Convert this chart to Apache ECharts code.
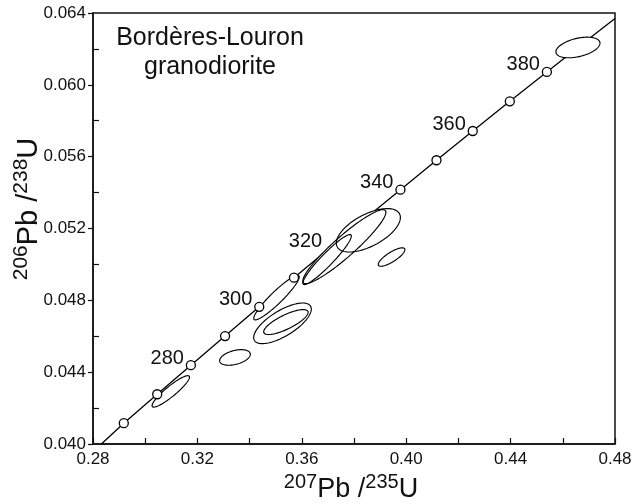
<!DOCTYPE html>
<html><head><meta charset="utf-8">
<script src="https://cdn.jsdelivr.net/npm/echarts@6/dist/echarts.min.js"></script>
<style>html,body{margin:0;padding:0;background:#fff}#c{width:635px;height:504px}</style>
</head><body><div id="c"></div>
<script>
// Concordia curve
const concordiaX = [0.2832, 0.2918, 0.3046, 0.3175, 0.3306, 0.3437, 0.3570, 0.3705, 0.3840, 0.3978, 0.4116, 0.4255, 0.4397, 0.4539, 0.4683, 0.4800];
const concordiaY = [0.0400, 0.04116, 0.04277, 0.04439, 0.04601, 0.04764, 0.04926, 0.05089, 0.05252, 0.05416, 0.05580, 0.05743, 0.05908, 0.06072, 0.06237, 0.0637];
// visible age markers (Ma)
const markerAge = [260, 270, 280, 290, 300, 310, 340, 350, 360, 370, 380];
const markerX = [0.2918, 0.3046, 0.3175, 0.3306, 0.3437, 0.3570, 0.3978, 0.4116, 0.4255, 0.4397, 0.4539];
const markerY = [0.04116, 0.04277, 0.04439, 0.04601, 0.04764, 0.04926, 0.05416, 0.05580, 0.05743, 0.05908, 0.06072];
// age labels
const labelText = ['280', '300', '320', '340', '360', '380'];
const labelX = [0.3175, 0.3437, 0.3705, 0.3978, 0.4255, 0.4539];
const labelY = [0.04439, 0.04764, 0.05089, 0.05416, 0.05743, 0.06072];
// error ellipses: centre, half-widths, correlation
const ellipseX = [0.3098, 0.3344, 0.3503, 0.3526, 0.3539, 0.3855, 0.3763, 0.3697, 0.3944, 0.4658];
const ellipseY = [0.04293, 0.04482, 0.04815, 0.04672, 0.04679, 0.05190, 0.05099, 0.05027, 0.05041, 0.06208];
const ellipseSX = [0.00717, 0.00587, 0.00871, 0.01104, 0.00851, 0.01227, 0.01592, 0.00928, 0.00510, 0.00844];
const ellipseSY = [0.000875, 0.000434, 0.001237, 0.001131, 0.000696, 0.001209, 0.002061, 0.001393, 0.000513, 0.000574];
const ellipseRho = [0.91, 0.41, 0.93, 0.70, 0.78, 0.59, 0.93, 0.94, 0.80, 0.42];
// axis ticks
const xTickLabels = ['0.28', '0.32', '0.36', '0.40', '0.44', '0.48'];
const yTickLabels = ['0.040', '0.044', '0.048', '0.052', '0.056', '0.060', '0.064'];
const yMinorTicks = [0.042, 0.046, 0.050, 0.054, 0.058, 0.062];

const FONT = '"Liberation Sans", Arial, Helvetica, sans-serif';
const ellipseData = ellipseX.map((x, i) => [x, ellipseY[i], ellipseSX[i], ellipseSY[i], ellipseRho[i]]);

function ellipsePoints(api) {
  const cx = api.value(0), cy = api.value(1), sx = api.value(2), sy = api.value(3), r = api.value(4);
  const q = Math.sqrt(1 - r * r);
  const pts = [];
  for (let i = 0; i < 120; i++) {
    const t = i / 120 * 2 * Math.PI;
    pts.push(api.coord([cx + sx * Math.cos(t), cy + sy * (r * Math.cos(t) + q * Math.sin(t))]));
  }
  return pts;
}

const chart = echarts.init(document.getElementById('c'), null, {renderer: 'canvas'});
const axisCol = '#111';
chart.setOption({
  animation: false,
  backgroundColor: '#fff',
  grid: {left: 93, right: 20, top: 13, bottom: 60, show: true, borderColor: axisCol, borderWidth: 1.5, backgroundColor: 'transparent'},
  xAxis: {
    type: 'value', min: 0.28, max: 0.48, interval: 0.04,
    axisLine: {show: true, lineStyle: {color: axisCol, width: 1.5}},
    axisTick: {show: true, inside: true, length: 6, lineStyle: {color: axisCol, width: 1.2}},
    minorTick: {show: true, splitNumber: 2, length: 6, lineStyle: {color: axisCol, width: 1.2}},
    splitLine: {show: false},
    axisLabel: {showMinLabel: true, showMaxLabel: true, fontSize: 17, color: '#111', margin: 7, fontFamily: FONT,
      formatter: v => xTickLabels[Math.round((v - 0.28) / 0.04)]}
  },
  yAxis: [{
    type: 'value', min: 0.040, max: 0.064, interval: 0.004,
    axisLine: {show: true, lineStyle: {color: axisCol, width: 1.5}},
    axisTick: {show: true, inside: false, length: 5, lineStyle: {color: axisCol, width: 1.2}},
    splitLine: {show: false},
    axisLabel: {showMinLabel: true, showMaxLabel: true, fontSize: 17, color: '#111', margin: 7, fontFamily: FONT,
      formatter: v => yTickLabels[Math.round((v - 0.040) / 0.004)]}
  }, {
    type: 'value', min: 0.040, max: 0.064, interval: 0.004, position: 'left',
    axisLine: {show: false},
    axisTick: {show: true, inside: true, length: 6, customValues: yMinorTicks, lineStyle: {color: axisCol, width: 1.2}},
    splitLine: {show: false},
    axisLabel: {show: false}
  }],
  graphic: [
    {type: 'text', x: 210, y: 24, z: 10,
      style: {text: 'Bordères-Louron\ngranodiorite', font: '25px ' + FONT, lineHeight: 29, fill: '#111', align: 'center', verticalAlign: 'top'}},
    {type: 'text', x: 351, y: 472, z: 10,
      style: {text: '{sup|207}{main|Pb /}{sup|235}{main|U}', align: 'center', verticalAlign: 'top', fill: '#111',
        rich: {sup: {fontSize: 20, lineHeight: 21, verticalAlign: 'top', fontFamily: FONT, fill: '#111'},
               main: {fontSize: 27, lineHeight: 31, verticalAlign: 'bottom', fontFamily: FONT, fill: '#111'}}}},
    {type: 'text', x: 27, y: 209, rotation: Math.PI / 2, z: 10,
      style: {text: '{sup|206}{main|Pb /}{sup|238}{main|U}', align: 'center', verticalAlign: 'middle', fill: '#111',
        rich: {sup: {fontSize: 21, lineHeight: 22, verticalAlign: 'top', fontFamily: FONT, fill: '#111'},
               main: {fontSize: 29, lineHeight: 32, verticalAlign: 'bottom', fontFamily: FONT, fill: '#111'}}}}
  ],
  series: [
    {type: 'line', z: 2, silent: true, showSymbol: false, symbol: 'none',
      data: concordiaX.map((x, i) => [x, concordiaY[i]]),
      lineStyle: {color: '#000', width: 1.3}},
    {type: 'custom', z: 3, silent: true, data: ellipseData,
      renderItem: (params, api) => ({type: 'polygon', shape: {points: ellipsePoints(api)}, style: {fill: '#fff', stroke: null, lineWidth: 0}})},
    {type: 'custom', z: 4, silent: true, data: ellipseData,
      renderItem: (params, api) => ({type: 'polygon', shape: {points: ellipsePoints(api)}, style: {fill: 'none', stroke: '#000', lineWidth: 1.15}})},
    {type: 'scatter', z: 5, silent: true, symbol: 'circle', symbolSize: 9,
      data: markerX.map((x, i) => [x, markerY[i]]),
      itemStyle: {color: '#fff', borderColor: '#000', borderWidth: 1.3, opacity: 1}},
    {type: 'custom', z: 6, silent: true,
      data: labelX.map((x, i) => [x, labelY[i]]),
      renderItem: (params, api) => {
        const p = api.coord([api.value(0), api.value(1)]);
        return {type: 'text', x: p[0] - 7, y: p[1] + 3,
          style: {text: labelText[params.dataIndex], font: '20px ' + FONT, fill: '#111', align: 'right', verticalAlign: 'bottom'}};
      }}
  ]
});
</script></body></html>
